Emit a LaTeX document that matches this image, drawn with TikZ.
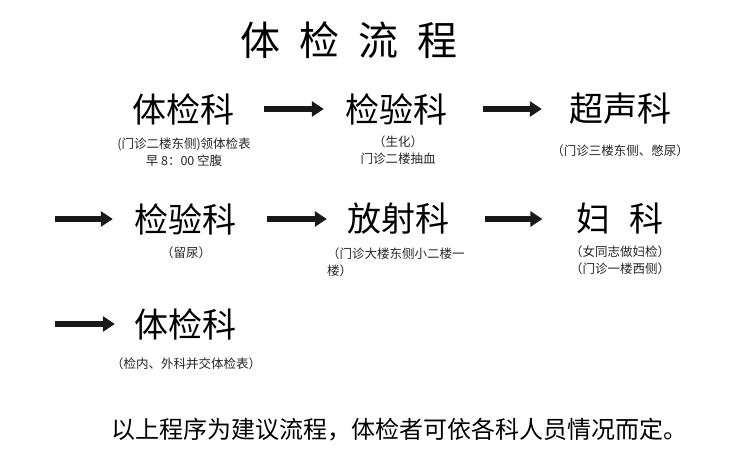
\documentclass[tikz,border=0pt]{standalone}
\usepackage{fontspec}
\setmainfont{Noto Sans CJK SC}
\usepackage{tikz}
\usetikzlibrary{arrows.meta}
\tikzstyle{heading}=[
    inner sep=0pt,
    font=\fontsize{40}{44}\selectfont
]
\tikzstyle{dept}=[
    inner sep=0pt,
    font=\fontsize{34}{40}\selectfont
]
\tikzstyle{note}=[
    inner sep=0pt,
    align=center,
    text=black!85,
    font=\fontsize{12.5}{17.5}\selectfont
]
\tikzstyle{remark}=[
    inner sep=0pt,
    font=\fontsize{24}{28}\selectfont
]
\tikzstyle{flow}=[
    line width=6pt,
    black!90,
    -{Triangle[length=12pt,width=15pt]}
]

\begin{document}
\begin{tikzpicture}[x=1pt,y=-1pt]
        \fill[white] (0,0) rectangle (750,474);

        % title
        \node[heading] (title) at (349,40) {体\hspace{0.48em}检\hspace{0.48em}流\hspace{0.48em}程};

        % first row
        \node[dept] (tj1) at (183,109) {体检科};
        \node[dept] (jy1) at (396,109) {检验科};
        \node[dept] (cs) at (620,109) {超声科};

        \draw[flow, shorten <=30pt, shorten >=21pt] (tj1.east) -- (jy1.west);
        \draw[flow, shorten <=36pt, shorten >=27pt] (jy1.east) -- (cs.west);

        \node[note] (n1) at (184,152) {(门诊二楼东侧)领体检表\\早 8：00 空腹};
        \node[note] (n2) at (398,150) {（生化）\\门诊二楼抽血};
        \node[note] (n3) at (620,151) {（门诊三楼东侧、憋尿）};

        % second row
        \coordinate (s2) at (55,219);
        \node[dept] (jy2) at (185,219) {检验科};
        \node[dept] (fs) at (398,219) {放射科};
        \node[dept] (fk) at (620,219) {妇\hspace{0.55em}科};

        \draw[flow, shorten >=21pt] (s2) -- (jy2.west);
        \draw[flow, shorten <=31pt, shorten >=20pt] (jy2.east) -- (fs.west);
        \draw[flow, shorten <=36pt, shorten >=34pt] (fs.east) -- (fk.west);

        \node[note] (n4) at (186,253) {（留尿）};
        \node[note, anchor=west, align=left] (n5) at (327,262) {（门诊大楼东侧小二楼一\\楼）};
        \node[note] (n6) at (620,260) {（女同志做妇检）\\（门诊一楼西侧）};

        % third row
        \coordinate (s3) at (55,324);
        \node[dept] (tj2) at (185,324) {体检科};

        \draw[flow, shorten >=19pt] (s3) -- (tj2.west);

        \node[note] (n7) at (186,364) {（检内、外科并交体检表）};

        % remark
        \node[remark, anchor=west] (rem) at (111,430) {以上程序为建议流程，体检者可依各科人员情况而定。};

    \end{tikzpicture}
\end{document}
